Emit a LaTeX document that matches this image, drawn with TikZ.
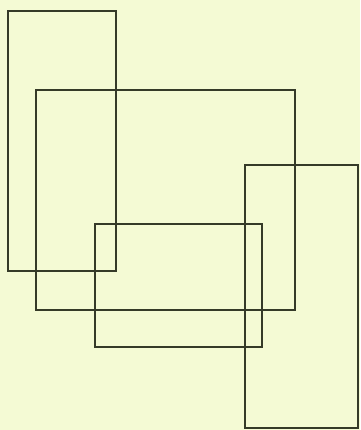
\documentclass[tikz,border=0pt]{standalone}
\definecolor{paper}{HTML}{F4FAD4}
\definecolor{ink}{HTML}{353A28}
\begin{document}
\begin{tikzpicture}[x=1pt,y=-1pt,
  frame/.style={draw=ink,line width=1.4pt}]
\fill[paper] (0,0) rectangle (360,430);
\useasboundingbox (0,0) rectangle (360,430);
\draw[frame] (8,11) rectangle (116,271);
\draw[frame] (36,90) rectangle (295,310);
\draw[frame] (95,224) rectangle (262,347);
\draw[frame] (245,165) rectangle (358,428);
\end{tikzpicture}
\end{document}
